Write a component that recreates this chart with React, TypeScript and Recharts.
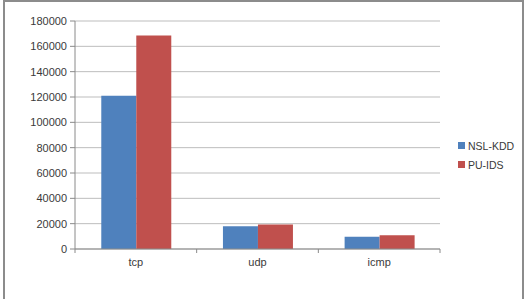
import { BarChart, Bar, XAxis, YAxis, CartesianGrid } from "recharts";

const protocols = ["tcp", "udp", "icmp"];
const nslKdd = [121000, 18000, 9700];
const puIds = [168500, 19400, 10800];
const yTicks = [0, 20000, 40000, 60000, 80000, 100000, 120000, 140000, 160000, 180000];

const seriesColors = { nsl: "#4F81BD", pu: "#C0504D" };
const textColor = "#3a3a3a";
const font = "'Liberation Sans', Arial, sans-serif";

const data = protocols.map((p, i) => ({ name: p, nsl: nslKdd[i], pu: puIds[i] }));

function CategoryTick(props: any) {
  const { x, y, payload, index, visibleTicksCount } = props;
  const half = payload.offset || 0;
  const isLast = index === visibleTicksCount - 1;
  return (
    <g>
      <line x1={x - half} x2={x - half} y1={y} y2={y + 4} stroke="#8a8a8a" />
      {isLast && <line x1={x + half} x2={x + half} y1={y} y2={y + 4} stroke="#8a8a8a" />}
      <text x={x} y={y + 17} textAnchor="middle" fontSize={11} fill={textColor} fontFamily={font}>
        {payload.value}
      </text>
    </g>
  );
}

function LegendBox() {
  const items = [
    { label: "NSL-KDD", color: seriesColors.nsl },
    { label: "PU-IDS", color: seriesColors.pu },
  ];
  return (
    <div style={{ fontFamily: font, fontSize: 10.5, color: textColor }}>
      {items.map((it) => (
        <div key={it.label} style={{ display: "flex", alignItems: "center", height: 19 }}>
          <span style={{ width: 7, height: 7, background: it.color, marginRight: 3, display: "inline-block" }} />
          <span>{it.label}</span>
        </div>
      ))}
    </div>
  );
}

export default function App() {
  return (
    <div style={{ position: "fixed", left: 0, top: 0, width: 524, height: 299, background: "#fff", overflow: "hidden" }}>
      <div
        style={{
          position: "absolute",
          left: 3,
          top: 0,
          width: 517,
          height: 330,
          border: "2px solid #8c8c8c",
        }}
      />
      <div style={{ position: "absolute", left: 0, top: 0 }}>
        <BarChart
          width={524}
          height={299}
          data={data}
          margin={{ top: 21, right: 84, bottom: 20, left: 15 }}
          barCategoryGap="21.6%"
          barGap={0}
        >
          <CartesianGrid vertical={false} stroke="#bdbdbd" />
          <XAxis
            dataKey="name"
            height={30}
            stroke="#8a8a8a"
            tickLine={false}
            tickSize={0}
            tickMargin={0}
            tick={<CategoryTick />}
          />
          <YAxis
            width={60}
            domain={[0, 180000]}
            ticks={yTicks}
            interval={0}
            stroke="#8a8a8a"
            tickSize={5}
            tickMargin={3}
            tick={{ fontSize: 11, fill: textColor, fontFamily: font }}
          />
          <Bar dataKey="nsl" name="NSL-KDD" fill={seriesColors.nsl} isAnimationActive={false} />
          <Bar dataKey="pu" name="PU-IDS" fill={seriesColors.pu} isAnimationActive={false} />
        </BarChart>
      </div>
      <div style={{ position: "absolute", left: 458, top: 136 }}>
        <LegendBox />
      </div>
    </div>
  );
}
